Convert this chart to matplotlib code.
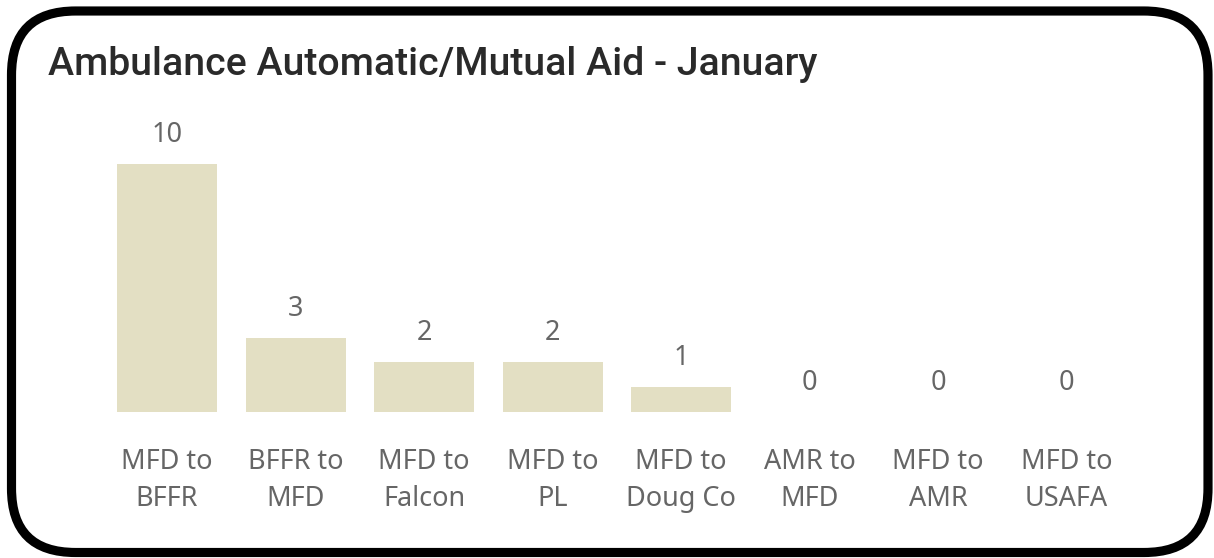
import matplotlib
matplotlib.use("Agg")
import matplotlib.pyplot as plt
from matplotlib.patches import FancyBboxPatch
from matplotlib.transforms import IdentityTransform

title = "Ambulance Automatic/Mutual Aid - January"
categories = ["MFD to\nBFFR", "BFFR to\nMFD", "MFD to\nFalcon", "MFD to\nPL",
              "MFD to\nDoug Co", "AMR to\nMFD", "MFD to\nAMR", "MFD to\nUSAFA"]
values = [10, 3, 2, 2, 1, 0, 0, 0]

W, H = 1214, 558
fig = plt.figure(figsize=(W / 100, H / 100), dpi=100)
fig.patch.set_facecolor("white")

# rounded border
border = FancyBboxPatch((11.5, 5.5), 1208 - 11.5, 547 - 5.5,
                        boxstyle="round,pad=0,rounding_size=64",
                        linewidth=6.6, edgecolor="black", facecolor="none",
                        transform=IdentityTransform(), figure=fig, zorder=5)
fig.patches.append(border)

ax = fig.add_axes([102.75 / W, (H - 412) / H, 1028 / W, 248 / H])
ax.set_facecolor("none")
x = list(range(len(values)))
bars = ax.bar(x, values, width=100 / 128.5, color="#E3DFC3")
ax.set_xlim(-0.5, len(values) - 0.5)
ax.set_ylim(0, 10)
ax.axis("off")

label_font = "Noto Sans"
for xi, v in zip(x, values):
    ax.annotate(str(v), (xi, v), xytext=(0, 15.8), textcoords="offset points",
                ha="center", va="baseline", fontsize=19.5, color="#666666",
                family=label_font, annotation_clip=False)
    ax.annotate(categories[xi], (xi, 0), xytext=(0, -67.7), textcoords="offset points",
                ha="center", va="baseline", fontsize=19.5, color="#666666",
                family=label_font, linespacing=1.44, multialignment="center",
                annotation_clip=False)

fig.text(48 / W, (H - 75) / H, title, ha="left", va="baseline",
         fontsize=28.3, color="#2a2a2a", family="Roboto", fontweight="medium")

fig.savefig("out.png", dpi=100, facecolor="white")
